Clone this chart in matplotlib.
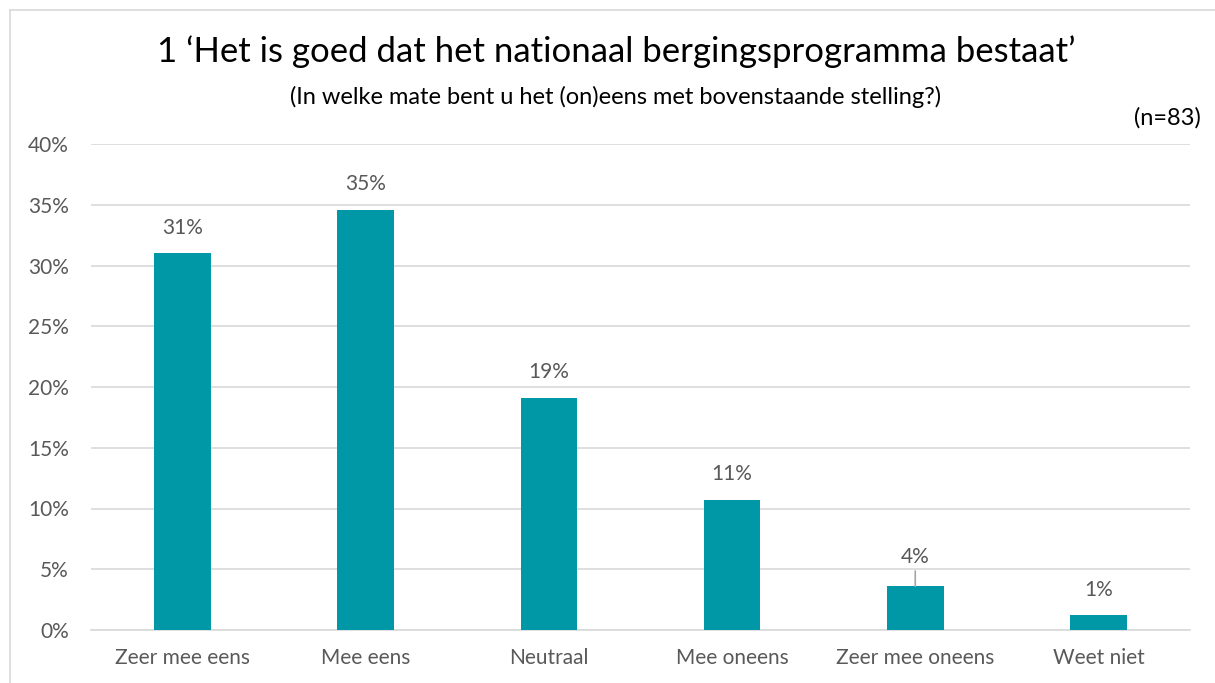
import matplotlib.pyplot as plt
from matplotlib.lines import Line2D

plt.rcParams['font.family'] = ['Lato', 'DejaVu Sans']

# data
categories = ["Zeer mee eens", "Mee eens", "Neutraal", "Mee oneens", "Zeer mee oneens", "Weet niet"]
values = [31.0, 34.6, 19.1, 10.7, 3.6, 1.2]
labels = ["31%", "35%", "19%", "11%", "4%", "1%"]
yticks = [0, 5, 10, 15, 20, 25, 30, 35, 40]

bar_color = "#0097A7"
text_color = "#595959"
grid_color = "#D9D9D9"

fig = plt.figure(figsize=(12.15, 6.83), dpi=100)
ax = fig.add_axes([91 / 1215, 53 / 683, 1099 / 1215, 486 / 683])

x = list(range(len(categories)))
ax.bar(x, values, width=0.31, color=bar_color, zorder=3)

ax.set_xlim(-0.5, len(categories) - 0.5)
ax.set_ylim(0, 40)
ax.set_yticks(yticks)
ax.set_yticklabels([f"{t}%" for t in yticks], fontsize=15, color=text_color)
ax.set_xticks(x)
ax.set_xticklabels(categories, fontsize=15, color=text_color)
ax.tick_params(axis="both", length=0)
ax.tick_params(axis="x", pad=13)
ax.tick_params(axis="y", pad=16)
ax.yaxis.grid(True, color=grid_color, linewidth=1.2, zorder=0)
for s in ["top", "right", "left"]:
    ax.spines[s].set_visible(False)
ax.spines["bottom"].set_color(grid_color)
ax.spines["bottom"].set_linewidth(1.2)

# data labels (4% has a leader line like in the original)
for i, (v, lab) in enumerate(zip(values, labels)):
    if i == 4:
        ax.annotate(lab, xy=(i, v), xytext=(i, v + 1.6), ha="center", va="bottom",
                    fontsize=15, color=text_color,
                    arrowprops=dict(arrowstyle="-", color="#A6A6A6", lw=1.2,
                                    shrinkA=1, shrinkB=0))
    else:
        ax.text(i, v + 1.3, lab, ha="center", va="bottom", fontsize=15, color=text_color)

# titles
fig.text(616 / 1215, 1 - 52 / 683, "1 \u2018Het is goed dat het nationaal bergingsprogramma bestaat\u2019",
         ha="center", va="center", fontsize=25, color="black")
fig.text(616 / 1215, 1 - 97 / 683, "(In welke mate bent u het (on)eens met bovenstaande stelling?)",
         ha="center", va="center", fontsize=17, color="black")
fig.text(1201 / 1215, 1 - 118 / 683, "(n=83)", ha="right", va="center", fontsize=17, color="black")

# chart border
fig.add_artist(Line2D([10 / 1215, 10 / 1215], [0, 1 - 10 / 683], color=grid_color, lw=1.2))
fig.add_artist(Line2D([10 / 1215, 1], [1 - 10 / 683, 1 - 10 / 683], color=grid_color, lw=1.2))

fig.savefig("out.png", dpi=100)
